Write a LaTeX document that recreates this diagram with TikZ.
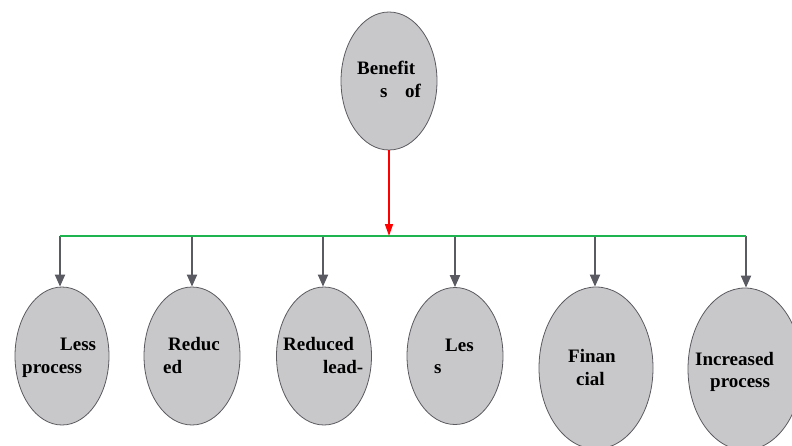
\documentclass[tikz,border=0pt]{standalone}
\usepackage{fontspec}
\setmainfont{Liberation Serif}
\usetikzlibrary{shapes.geometric,arrows.meta}
\definecolor{ellipsefill}{RGB}{200,200,203}
\definecolor{ellipseborder}{RGB}{90,90,95}
\definecolor{arrowgray}{RGB}{90,90,98}
\definecolor{busgreen}{RGB}{30,180,80}
\begin{document}
\begin{tikzpicture}[x=1pt,y=-1pt,
  bubble/.style={ellipse,draw=ellipseborder,fill=ellipsefill,line width=0.8pt,inner sep=0pt},
  lbl/.style={anchor=base west,inner sep=0pt,text=black,font=\fontsize{19}{22}\selectfont\bfseries},
  drop/.style={draw=arrowgray,line width=2pt,-{Triangle[width=10pt,length=12pt]}},
  feed/.style={draw=red,line width=1.6pt,-{Triangle[width=8pt,length=12pt]}},
  bus/.style={draw=busgreen,line width=2pt}]
\useasboundingbox (0,0) rectangle (792,445);

% ellipses
\node[bubble,minimum width=96pt,minimum height=138pt] (top) at (389,81) {};
\node[bubble,minimum width=94pt,minimum height=138pt] (e1) at (62,356) {};
\node[bubble,minimum width=96pt,minimum height=138pt] (e2) at (192,356) {};
\node[bubble,minimum width=95pt,minimum height=138pt] (e3) at (324,356) {};
\node[bubble,minimum width=96pt,minimum height=137pt] (e4) at (455,356) {};
\node[bubble,minimum width=114pt,minimum height=162pt] (e5) at (596,368) {};
\node[bubble,minimum width=114pt,minimum height=162pt] (e6) at (745,369) {};

% bus coordinates
\coordinate (b1) at (60,236);
\coordinate (b2) at (192,236);
\coordinate (b3) at (323,236);
\coordinate (b4) at (455,236);
\coordinate (b5) at (595,236);
\coordinate (b6) at (746,236);
\coordinate (bm) at (389,236);

% connectors
\draw[drop] (b1) -- (b1 |- e1.north);
\draw[drop] (b2) -- (b2 |- e2.north);
\draw[drop] (b3) -- (b3 |- e3.north);
\draw[drop] (b4) -- (b4 |- e4.north);
\draw[drop] (b5) -- (b5 |- e5.north);
\draw[drop] (b6) -- (b6 |- e6.north);
\draw[bus] (b1) -- (b6);
\draw[feed] (top.south) -- (bm);

% labels
\node[lbl] (t1) at (357,74) {Benefit};
\node[lbl] (t2) at (380,97) {s};
\node[lbl] (t3) at (405,97) {of};

\node[lbl] (l1a) at (60,350) {Less};
\node[lbl] (l1b) at (22,373) {process};

\node[lbl] (l2a) at (168,350) {Reduc};
\node[lbl] (l2b) at (163,373) {ed};

\node[lbl] (l3a) at (283,350) {Reduced};
\node[lbl] (l3b) at (323,373) {lead-};

\node[lbl] (l4a) at (445,351) {Les};
\node[lbl] (l4b) at (434,373) {s};

\node[lbl] (l5a) at (568,362) {Finan};
\node[lbl] (l5b) at (576,385) {cial};

\node[lbl] (l6a) at (695,365) {Increased};
\node[lbl] (l6b) at (710,387) {process};
\end{tikzpicture}
\end{document}
